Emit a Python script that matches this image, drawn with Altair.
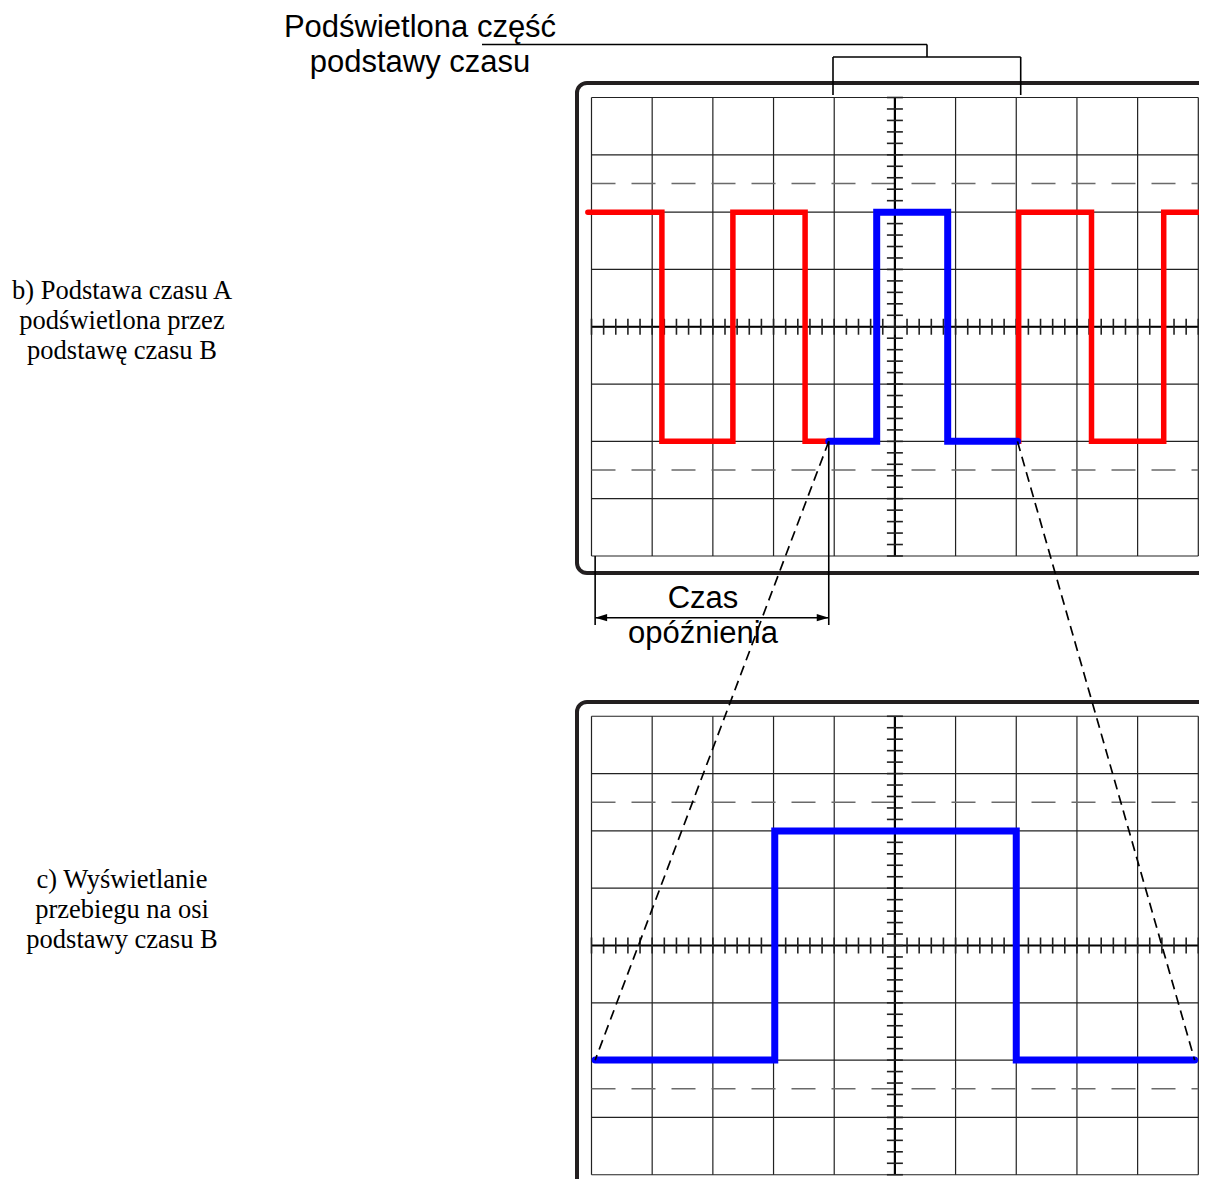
import altair as alt
import pandas as pd
import numpy as np

# ---------------- data (oscilloscope divisions) ----------------
GRID_COLS = 10          # horizontal divisions
GRID_ROWS = 8           # vertical divisions
LEVEL_HIGH = 2.0
LEVEL_LOW = -2.0
DASH_LEVELS = [2.5, -2.5]
MINOR_STEP = 0.2

# screen b): time base A, red trace outside the highlighted part
red1_start, red1_edges = -0.06, [1.16, 2.33, 3.52]
red2_edges, red2_end = [7.04, 8.24, 9.43], 10.1
# highlighted part (time base B) on screen b)
blue_start, blue_edges, blue_end = 3.91, [4.70, 5.87], 7.02
# screen c): expanded waveform on time base B
blueB_start, blueB_edges, blueB_end = 0.06, [3.02, 7.00], 9.94

label_top = "Podświetlona część\npodstawy czasu"
label_delay = "Czas\nopóźnienia"
label_b = "b) Podstawa czasu A\npodświetlona przez\npodstawę czasu B"
label_c = "c) Wyświetlanie\nprzebiegu na osi\npodstawy czasu B"

# ---------------- layout ----------------
GRID_LEFT, DX = 591.5, 60.68
TOP_CENTER, DY = 326.75, 57.31
def PX(p):
    return (p - GRID_LEFT) / DX
def PY(p):
    return (TOP_CENTER - p) / DY
OFF_TOP = 0.0
OFF_BOT = PY(945.5)

W, H = 1191, 1171
XS = alt.Scale(domain=[PX(8), PX(8 + W)], nice=False, zero=False)
YS = alt.Scale(domain=[PY(8 + H), PY(8)], nice=False, zero=False)

def X(f="x"):
    return alt.X(f"{f}:Q", scale=XS, axis=None)
def Y(f="y"):
    return alt.Y(f"{f}:Q", scale=YS, axis=None)


def rules(df, **style):
    return alt.Chart(df).mark_rule(**style).encode(
        x=X("x"), x2=alt.X2("x2"), y=Y("y"), y2=alt.Y2("y2"))


def step_trace(start, edges, end, level, off, seg):
    pts = [(start, level)]
    for e in edges:
        pts.append((e, level))
        level = -level
        pts.append((e, level))
    pts.append((end, level))
    return pd.DataFrame({"x": [p[0] for p in pts], "y": [p[1] + off for p in pts],
                         "i": range(len(pts)), "seg": seg})


grid_rows, dash_rows, axis_rows, tick_rows = [], [], [], []
for off in (OFF_TOP, OFF_BOT):
    for c in range(GRID_COLS + 1):
        grid_rows.append(dict(x=c, x2=c, y=off - GRID_ROWS / 2, y2=off + GRID_ROWS / 2))
    for r in range(GRID_ROWS + 1):
        yv = off - GRID_ROWS / 2 + r
        grid_rows.append(dict(x=0, x2=GRID_COLS, y=yv, y2=yv))
    for d in DASH_LEVELS:
        dash_rows.append(dict(x=0, x2=GRID_COLS, y=off + d, y2=off + d))
    cx = GRID_COLS / 2
    axis_rows.append(dict(x=cx, x2=cx, y=off - GRID_ROWS / 2, y2=off + GRID_ROWS / 2))
    axis_rows.append(dict(x=0, x2=GRID_COLS, y=off, y2=off))
    hx = 8 / DX
    hy = 8 / DY
    for k in range(int(GRID_COLS / MINOR_STEP) + 1):
        xv = k * MINOR_STEP
        tick_rows.append(dict(x=xv, x2=xv, y=off - hy, y2=off + hy))
    for k in range(int(GRID_ROWS / MINOR_STEP) + 1):
        yv = off - GRID_ROWS / 2 + k * MINOR_STEP
        tick_rows.append(dict(x=cx - hx, x2=cx + hx, y=yv, y2=yv))

grid_df = pd.DataFrame(grid_rows)
dash_df = pd.DataFrame(dash_rows)
axis_df = pd.DataFrame(axis_rows)
tick_df = pd.DataFrame(tick_rows)

red_df = pd.concat([
    step_trace(red1_start, red1_edges, blue_start, LEVEL_HIGH, OFF_TOP, "r1"),
    step_trace(blue_end, red2_edges, red2_end, LEVEL_LOW, OFF_TOP, "r2"),
])
blue_top_df = step_trace(blue_start, blue_edges, blue_end, LEVEL_LOW, OFF_TOP, "b1")
blue_bot_df = step_trace(blueB_start, blueB_edges, blueB_end, LEVEL_LOW, OFF_BOT, "b2")

zoom_df = pd.DataFrame([
    dict(x=blue_start, y=LEVEL_LOW + OFF_TOP, x2=blueB_start, y2=LEVEL_LOW + OFF_BOT),
    dict(x=blue_end, y=LEVEL_LOW + OFF_TOP, x2=blueB_end, y2=LEVEL_LOW + OFF_BOT),
])

bezel_df = pd.DataFrame([
    dict(x=PX(577), x2=PX(1290), y=PY(83), y2=PY(573)),
    dict(x=PX(577), x2=PX(1290), y=PY(702), y2=PY(1260)),
])

arrow_y = PY(617.7)
delay_bottom = PY(625)
annot_df = pd.DataFrame([
    dict(x=blueB_start, x2=blueB_start, y=OFF_TOP - GRID_ROWS / 2, y2=delay_bottom),
    dict(x=blue_start, x2=blue_start, y=LEVEL_LOW + OFF_TOP, y2=delay_bottom),
    dict(x=blueB_start, x2=blue_start, y=arrow_y, y2=arrow_y),
    # bracket over highlighted part
    dict(x=PX(833), x2=PX(1020.7), y=PY(57), y2=PY(57)),
    dict(x=PX(833), x2=PX(833), y=PY(57), y2=PY(95)),
    dict(x=PX(1020.7), x2=PX(1020.7), y=PY(57), y2=PY(95)),
    dict(x=PX(927), x2=PX(927), y=PY(57), y2=PY(44.5)),
    dict(x=PX(482), x2=PX(927), y=PY(44.5), y2=PY(44.5)),
])
arrow_df = pd.DataFrame([
    dict(x=blueB_start, y=arrow_y, shape="M0,0L2,-0.6L2,0.6Z"),
    dict(x=blue_start, y=arrow_y, shape="M0,0L-2,-0.6L-2,0.6Z"),
])

sans_df = pd.DataFrame([
    dict(x=PX(420), y=PY(37), t=label_top),
    dict(x=PX(703), y=PY(608), t=label_delay),
])
serif_df = pd.DataFrame([
    dict(x=PX(122), y=PY(299), t=label_b),
    dict(x=PX(122), y=PY(888), t=label_c),
])

# ---------------- layers ----------------
bezels = alt.Chart(bezel_df).mark_rect(
    fill="white", fillOpacity=0, stroke="#231f20", strokeWidth=4, cornerRadius=10
).encode(x=X("x"), x2=alt.X2("x2"), y=Y("y"), y2=alt.Y2("y2"))

grid = rules(grid_df, color="#222222", strokeWidth=1.2)
dashes = rules(dash_df, color="#6a6a6a", strokeWidth=1.6, strokeDash=[24, 16])
axes = rules(axis_df, color="#000000", strokeWidth=2.2)
ticks = rules(tick_df, color="#222222", strokeWidth=1.6)

def trace(df, color, width):
    return alt.Chart(df).mark_line(
        color=color, strokeWidth=width, strokeJoin="miter", strokeCap="round"
    ).encode(x=X("x"), y=Y("y"), detail="seg:N", order=alt.Order("i:Q"))

red = trace(red_df, "#ff0000", 5.5)
blue_top = trace(blue_top_df, "#0000ff", 7)
blue_bot = trace(blue_bot_df, "#0000ff", 7)

zoom_lines = rules(zoom_df, color="#000000", strokeWidth=1.7, strokeDash=[10, 6])
annot = rules(annot_df, color="#000000", strokeWidth=1.6)
arrows = alt.Chart(arrow_df).mark_point(
    filled=True, color="#000000", size=144, opacity=1
).encode(x=X("x"), y=Y("y"), shape=alt.Shape("shape:N", scale=None))

sans_text = alt.Chart(sans_df).mark_text(
    font="Liberation Sans", fontSize=31, align="center", baseline="alphabetic",
    lineBreak="\n", lineHeight=35, color="#000000"
).encode(x=X("x"), y=Y("y"), text="t:N")
serif_text = alt.Chart(serif_df).mark_text(
    font="Liberation Serif", fontSize=26.5, align="center", baseline="alphabetic",
    lineBreak="\n", lineHeight=30, color="#000000"
).encode(x=X("x"), y=Y("y"), text="t:N")

chart = alt.layer(
    bezels, grid, dashes, axes, ticks, red, blue_top, blue_bot,
    annot, arrows, sans_text, serif_text, zoom_lines
).properties(
    width=W, height=H, autosize=alt.AutoSizeParams(type="none"), padding=0,
    background="white"
).configure_view(stroke=None)

chart.save("out.html", embed_options={"renderer": "svg", "actions": False})
